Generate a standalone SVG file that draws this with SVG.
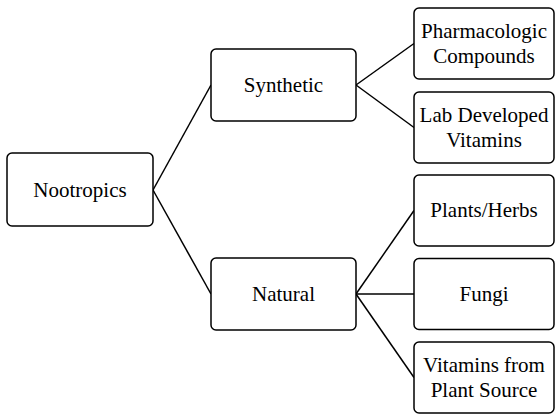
<svg xmlns="http://www.w3.org/2000/svg" width="556" height="414" viewBox="0 0 556 414">
<style>
.box{fill:#fff;stroke:#000;stroke-width:1.5}
.c{stroke:#000;stroke-width:1.5;fill:none}
.t{font-family:'Liberation Serif','DejaVu Serif','Times New Roman',Times,serif;font-size:21px;text-anchor:middle;fill:#000}
</style>
<rect width="556" height="414" fill="#fff"/>
<g id="connectors">
<line class="c" x1="153" y1="190" x2="211" y2="85"/>
<line class="c" x1="153" y1="190" x2="211" y2="294"/>
<line class="c" x1="356" y1="85" x2="414" y2="43.5"/>
<line class="c" x1="356" y1="85" x2="414" y2="127.5"/>
<line class="c" x1="356" y1="294" x2="414" y2="210.5"/>
<line class="c" x1="356" y1="294" x2="414" y2="294"/>
<line class="c" x1="356" y1="294" x2="414" y2="377.5"/>
</g>
<g id="nootropics">
<rect class="box" x="7" y="153" width="146" height="73" rx="5"/>
<text class="t" x="80" y="196.5">Nootropics</text>
</g>
<g id="synthetic">
<rect class="box" x="211" y="49" width="145" height="72" rx="5"/>
<text class="t" x="283.5" y="91.5">Synthetic</text>
</g>
<g id="natural">
<rect class="box" x="211" y="258" width="145" height="72" rx="5"/>
<text class="t" x="283.5" y="300.5">Natural</text>
</g>
<g id="pharmacologic">
<rect class="box" x="414" y="8" width="140" height="71" rx="5"/>
<text class="t" x="484" y="37.5">Pharmacologic</text>
<text class="t" x="484" y="62.5">Compounds</text>
</g>
<g id="labvitamins">
<rect class="box" x="414" y="92" width="140" height="71" rx="5"/>
<text class="t" x="484" y="121.5">Lab Developed</text>
<text class="t" x="484" y="146.5">Vitamins</text>
</g>
<g id="plants">
<rect class="box" x="414" y="175" width="140" height="71" rx="5"/>
<text class="t" x="484" y="217">Plants/Herbs</text>
</g>
<g id="fungi">
<rect class="box" x="414" y="258.5" width="140" height="71" rx="5"/>
<text class="t" x="484" y="300.5">Fungi</text>
</g>
<g id="plantvitamins">
<rect class="box" x="414" y="342" width="140" height="71" rx="5"/>
<text class="t" x="484" y="371.5">Vitamins from</text>
<text class="t" x="484" y="396.5">Plant Source</text>
</g>
</svg>
